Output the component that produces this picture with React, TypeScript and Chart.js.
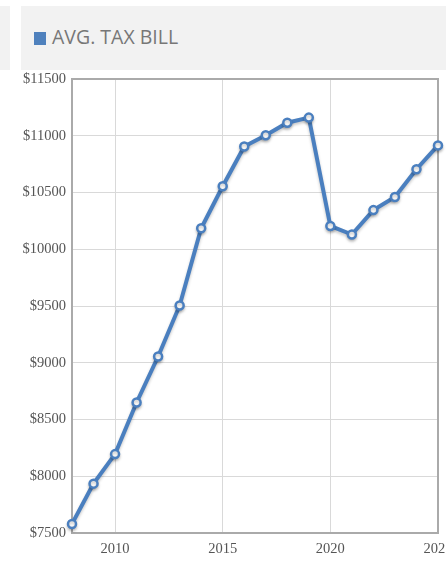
import React, { useEffect, useRef } from "react";
import { Chart, registerables } from "chart.js";

Chart.register(...registerables);

const years = [2008, 2009, 2010, 2011, 2012, 2013, 2014, 2015, 2016, 2017, 2018, 2019, 2020, 2021, 2022, 2023, 2024, 2025];
const taxBill = [7580, 7935, 8195, 8650, 9055, 9505, 10185, 10555, 10905, 11005, 11115, 11160, 10205, 10130, 10345, 10460, 10705, 10915];
const xTickValues = [2010, 2015, 2020, 2025];
const yTickValues = [7500, 8000, 8500, 9000, 9500, 10000, 10500, 11000, 11500];
const seriesLabel = "AVG. TAX BILL";

const BLUE = "#4a7fbf";
const TICK_FONT = { family: "'Liberation Serif', 'Times New Roman', serif", size: 14.5 };

const shadowPlugin = {
  id: "lineShadow",
  beforeDatasetDraw(chart: any) {
    const ctx = chart.ctx;
    ctx.save();
    ctx.shadowColor = "rgba(0,0,0,0.22)";
    ctx.shadowBlur = 3;
    ctx.shadowOffsetX = 0;
    ctx.shadowOffsetY = 2;
  },
  afterDatasetDraw(chart: any) {
    chart.ctx.restore();
  },
};

const borderOnly = (position: string, isX: boolean, min: number, max: number) => ({
  position,
  type: "linear",
  display: true,
  min,
  max,
  ticks: { display: false },
  grid: { display: false, drawTicks: false },
  border: { color: "#aaaaaa", width: 2 },
  afterFit: (s: any) => {
    if (isX) {
      s.height = 0;
    } else {
      s.width = 0;
    }
    s.paddingTop = 0;
    s.paddingBottom = 0;
    s.paddingLeft = 0;
    s.paddingRight = 0;
  },
});

export default function App() {
  const ref = useRef<HTMLCanvasElement>(null);

  useEffect(() => {
    if (!ref.current) return;
    const chart = new Chart(ref.current, {
      type: "line",
      data: {
        datasets: [
          {
            label: seriesLabel,
            data: years.map((y, i) => ({ x: y, y: taxBill[i] })),
            borderColor: BLUE,
            borderWidth: 4,
            pointRadius: 4,
            pointBorderWidth: 2.5,
            pointBackgroundColor: "#ffffff",
            pointBorderColor: BLUE,
            tension: 0,
            clip: false,
          },
        ],
      },
      options: {
        animation: false,
        responsive: false,
        layout: { padding: { top: 9, right: 8, left: 0, bottom: 0 } },
        plugins: { legend: { display: false }, tooltip: { enabled: false } },
        scales: {
          x: {
            type: "linear",
            min: 2008,
            max: 2025,
            afterBuildTicks: (s: any) => {
              s.ticks = xTickValues.map((v) => ({ value: v }));
            },
            afterFit: (s: any) => {
              s.height = 33;
              s.paddingLeft = 0;
              s.paddingRight = 0;
            },
            ticks: {
              color: "#555",
              font: TICK_FONT,
              padding: 7,
              maxRotation: 0,
              autoSkip: false,
              callback: (v: any) => String(v),
            },
            grid: { color: "#d9d9d9", lineWidth: 1, drawTicks: false },
            border: { color: "#aaaaaa", width: 2 },
          },
          y: {
            type: "linear",
            min: 7500,
            max: 11500,
            afterBuildTicks: (s: any) => {
              s.ticks = yTickValues.map((v) => ({ value: v }));
            },
            afterFit: (s: any) => {
              s.width = 72;
              s.paddingTop = 0;
              s.paddingBottom = 0;
            },
            ticks: {
              color: "#555",
              font: TICK_FONT,
              padding: 6,
              callback: (v: any) => "$" + v,
            },
            grid: { color: "#d9d9d9", lineWidth: 1, drawTicks: false },
            border: { color: "#aaaaaa", width: 2 },
          },
          y2: borderOnly("right", false, 7500, 11500),
          x2: borderOnly("top", true, 2008, 2025),
        },
      },
      plugins: [shadowPlugin],
    } as any);
    return () => chart.destroy();
  }, []);

  return (
    <div style={{ position: "absolute", left: 0, top: 0, width: 446, height: 566, background: "#fff", overflow: "hidden" }}>
      <div style={{ position: "absolute", left: 0, top: 6, width: 10, height: 64, background: "#f2f2f2" }} />
      <div style={{ position: "absolute", left: 21, top: 6, width: 425, height: 64, background: "#f2f2f2" }} />
      <div style={{ position: "absolute", left: 34, top: 32, width: 12, height: 13, background: "#4f81bd" }} />
      <div
        style={{
          position: "absolute",
          left: 52,
          top: 24,
          fontFamily: "'Open Sans', sans-serif",
          fontSize: 19.5,
          lineHeight: "26px",
          color: "#777",
          whiteSpace: "nowrap",
        }}
      >
        {seriesLabel}
      </div>
      <canvas ref={ref} width={446} height={496} style={{ position: "absolute", left: 0, top: 70, width: 446, height: 496 }} />
    </div>
  );
}
